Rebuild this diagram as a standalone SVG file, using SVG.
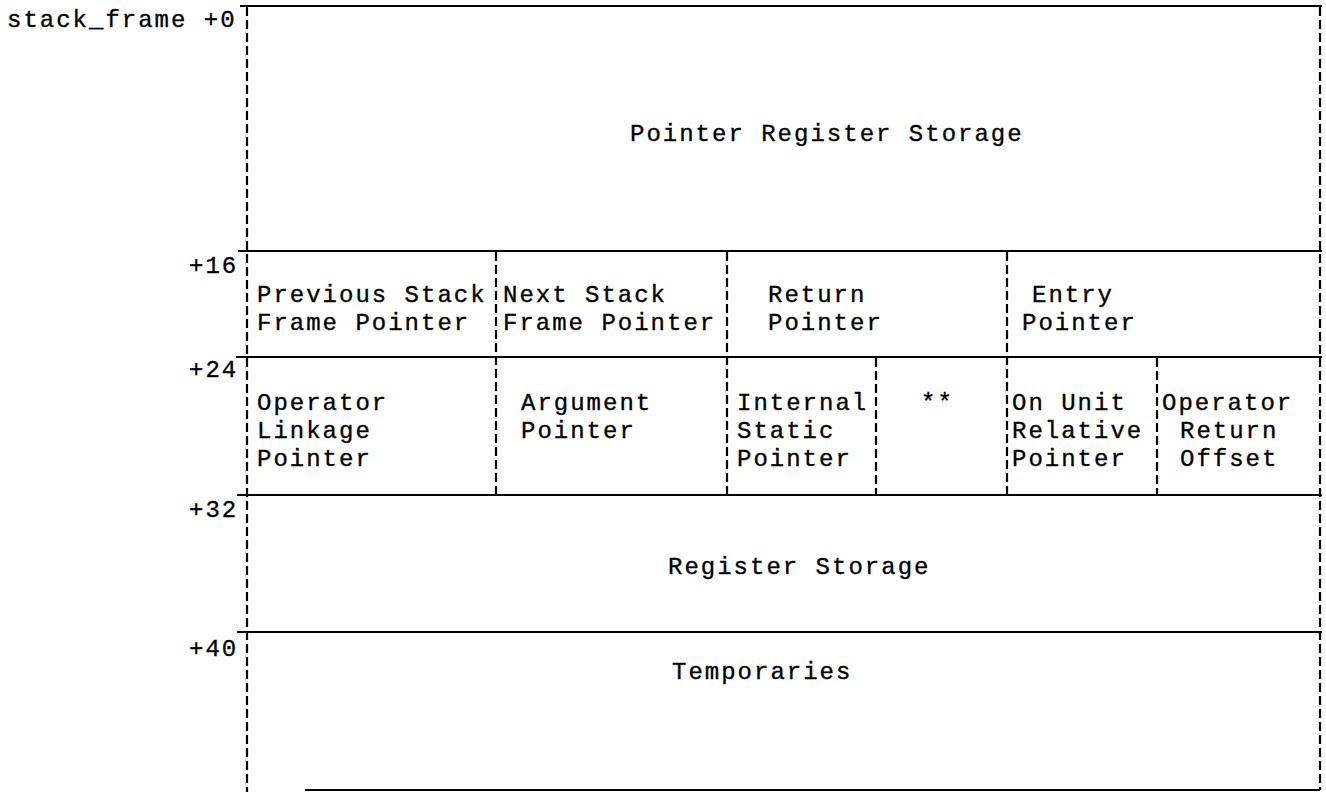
<svg xmlns="http://www.w3.org/2000/svg" width="1326" height="792" viewBox="0 0 1326 792">
<style>
text{font-family:"Liberation Mono","Courier New",monospace;font-size:24px;letter-spacing:2px;fill:#000;stroke:#000;stroke-width:0.35px}
.h{stroke:#000;stroke-width:2.2;fill:none}
.v{stroke:#000;stroke-width:2.2;fill:none;stroke-dasharray:9 4}
</style>
<rect width="1326" height="792" fill="#fff"/>
<g id="connectors">
<line class="h" x1="240" y1="6" x2="1322" y2="6"/>
<line class="h" x1="238" y1="251" x2="1322" y2="251"/>
<line class="h" x1="236" y1="357" x2="1322" y2="357"/>
<line class="h" x1="237" y1="495" x2="1322" y2="495"/>
<line class="h" x1="237" y1="632" x2="1322" y2="632"/>
<line class="h" x1="305" y1="790" x2="1320" y2="790"/>
<line class="v" x1="247" y1="7" x2="247" y2="792"/>
<line class="v" x1="1320" y1="7" x2="1320" y2="790"/>
<line class="v" x1="496" y1="252" x2="496" y2="494"/>
<line class="v" x1="727" y1="252" x2="727" y2="494"/>
<line class="v" x1="1007" y1="252" x2="1007" y2="494"/>
<line class="v" x1="876" y1="358" x2="876" y2="494"/>
<line class="v" x1="1157" y1="358" x2="1157" y2="494"/>
</g>
<g id="offsets">
<text x="7" y="27">stack_frame +0</text>
<text x="189" y="273">+16</text>
<text x="189" y="377">+24</text>
<text x="189" y="517">+32</text>
<text x="189" y="656">+40</text>
</g>
<g id="pointer-register-storage"><text x="630" y="141">Pointer Register Storage</text></g>
<g id="prev-stack-frame"><text x="257" y="302">Previous Stack</text><text x="257" y="330">Frame Pointer</text></g>
<g id="next-stack-frame"><text x="503" y="302">Next Stack</text><text x="503" y="330">Frame Pointer</text></g>
<g id="return-pointer"><text x="768" y="302">Return</text><text x="768" y="330">Pointer</text></g>
<g id="entry-pointer"><text x="1032" y="302">Entry</text><text x="1022" y="330">Pointer</text></g>
<g id="operator-linkage"><text x="257" y="410">Operator</text><text x="257" y="438">Linkage</text><text x="257" y="466">Pointer</text></g>
<g id="argument-pointer"><text x="521" y="410">Argument</text><text x="521" y="438">Pointer</text></g>
<g id="internal-static"><text x="737" y="410">Internal</text><text x="737" y="438">Static</text><text x="737" y="466">Pointer</text></g>
<g id="reserved"><text x="921" y="410">**</text></g>
<g id="on-unit"><text x="1012" y="410">On Unit</text><text x="1012" y="438">Relative</text><text x="1012" y="466">Pointer</text></g>
<g id="operator-return"><text x="1162" y="410">Operator</text><text x="1180" y="438">Return</text><text x="1180" y="466">Offset</text></g>
<g id="register-storage"><text x="668" y="574">Register Storage</text></g>
<g id="temporaries"><text x="672" y="679">Temporaries</text></g>
</svg>
